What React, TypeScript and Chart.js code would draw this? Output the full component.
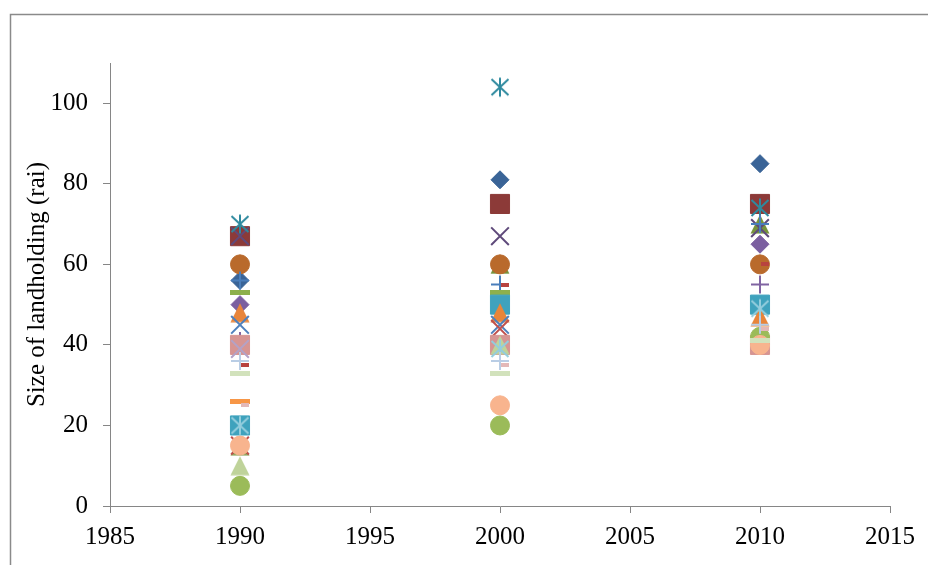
import React, { useEffect, useRef } from "react";
import { Chart, registerables } from "chart.js";

Chart.register(...registerables);

// ---- data ----
const years = [1990, 2000, 2010];
const xTickValues = [1985, 1990, 1995, 2000, 2005, 2010, 2015];
const yTickValues = [0, 20, 40, 60, 80, 100];
const yTitle = "Size of landholding (rai)";

const s01 = [56, 81, 85];
const s02 = [67, 75, 75];
const s03 = [15, 60, 70];
const s04 = [67, 67, 69];
const s05 = [70, 104, 74];
const s06 = [60, 60, 60];
const s07 = [56, 55, 70];
const s08 = [35, 55, 60];
const s09 = [53, 53, null];
const s10 = [26, null, null];
const s11 = [50, null, 65];
const s12 = [20, 50, 50];
const s13 = [48, 48, 47];
const s14 = [45, 45, null];
const s15 = [15, 44, null];
const s16 = [41, null, 55];
const s17 = [40, 40, 40];
const s18 = [10, 40, 42];
const s19 = [39, null, null];
const s20 = [20, 39, 49];
const s21 = [5, 20, 42];
const s22 = [15, 25, 40];
const s23 = [36, 36, 45];
const s24 = [25, 35, 44];
const s25 = [33, 33, 41];

const seriesValues = [s01, s02, s03, s04, s05, s06, s07, s08, s09, s10, s11, s12, s13, s14, s15, s16, s17, s18, s19, s20, s21, s22, s23, s24, s25];

// ---- styles (shape, colour) per series ----
const seriesStyles: [string, string][] = [
  ["diamond", "#3A6497"],
  ["square", "#8C3A38"],
  ["triangle", "#77933C"],
  ["x", "#5F4A7B"],
  ["star", "#2F8A9F"],
  ["circle", "#B96A2C"],
  ["plus", "#4A7EBB"],
  ["dash", "#B8433F"],
  ["longdash", "#8DB04C"],
  ["longdash", "#F79646"],
  ["diamond", "#7B5FA0"],
  ["square", "#3FA2BD"],
  ["triangle", "#E8853A"],
  ["x", "#4F81BD"],
  ["x", "#C0504D"],
  ["plus", "#8064A2"],
  ["square", "#D69593"],
  ["triangle", "#BFD39A"],
  ["x", "#B3A2C7"],
  ["star", "#93CDDD"],
  ["circle", "#9BBB59"],
  ["circle", "#F8B48E"],
  ["plus", "#B9CDE5"],
  ["dash", "#E3B8B7"],
  ["longdash", "#D2E2BC"],
];

const FONT = "'Liberation Serif', 'Times New Roman', serif";
const AXIS = "#868686";

function makeCanvas(w: number, h: number, draw: (c: CanvasRenderingContext2D) => void) {
  const cv = document.createElement("canvas");
  cv.width = w;
  cv.height = h;
  const c = cv.getContext("2d")!;
  draw(c);
  return cv;
}

function markerFor(shape: string, color: string): any {
  switch (shape) {
    case "diamond":
      return { pointStyle: "rectRot", radius: 9, borderWidth: 1 };
    case "square":
      return { pointStyle: "rect", radius: 13.5, borderWidth: 1 };
    case "circle":
      return { pointStyle: "circle", radius: 9.5, borderWidth: 1 };
    case "x":
      return { pointStyle: "crossRot", radius: 12.5, borderWidth: 2 };
    case "plus":
      return { pointStyle: "cross", radius: 9, borderWidth: 2 };
    case "triangle":
      return {
        pointStyle: makeCanvas(20, 20, (c) => {
          c.fillStyle = color;
          c.beginPath();
          c.moveTo(10, 0.5);
          c.lineTo(19.5, 19.5);
          c.lineTo(0.5, 19.5);
          c.closePath();
          c.fill();
        }),
        radius: 5,
        borderWidth: 0,
      };
    case "star":
      return {
        pointStyle: makeCanvas(22, 22, (c) => {
          c.strokeStyle = color;
          c.lineWidth = 2;
          c.beginPath();
          c.moveTo(11, 1.5);
          c.lineTo(11, 20.5);
          c.moveTo(2.5, 3);
          c.lineTo(19.5, 19);
          c.moveTo(19.5, 3);
          c.lineTo(2.5, 19);
          c.stroke();
        }),
        radius: 5,
        borderWidth: 0,
      };
    case "dash":
      return {
        pointStyle: makeCanvas(20, 4, (c) => {
          c.fillStyle = color;
          c.fillRect(11, 0, 8, 4);
        }),
        radius: 5,
        borderWidth: 0,
      };
    case "longdash":
    default:
      return {
        pointStyle: makeCanvas(20, 5, (c) => {
          c.fillStyle = color;
          c.fillRect(0, 0, 20, 5);
        }),
        radius: 5,
        borderWidth: 0,
      };
  }
}

const frame = {
  id: "frame",
  beforeDraw(chart: any) {
    const ctx = chart.ctx;
    ctx.save();
    ctx.fillStyle = "#ffffff";
    ctx.fillRect(0, 0, chart.width, chart.height);
    ctx.strokeStyle = "#8a8a8a";
    ctx.lineWidth = 1.5;
    ctx.beginPath();
    ctx.moveTo(10.5, chart.height);
    ctx.lineTo(10.5, 14.5);
    ctx.lineTo(chart.width, 14.5);
    ctx.stroke();
    ctx.restore();
  },
};

export default function App() {
  const ref = useRef<HTMLCanvasElement | null>(null);

  useEffect(() => {
    if (!ref.current) return;
    const datasets = seriesValues.map((vals, i) => {
      const [shape, color] = seriesStyles[i];
      const m = markerFor(shape, color);
      return {
        label: "Series " + (i + 1),
        data: years.map((yr, j) => ({ x: yr, y: vals[j] })),
        order: -i,
        showLine: false,
        pointStyle: m.pointStyle,
        pointRadius: m.radius,
        pointBorderWidth: m.borderWidth,
        pointBackgroundColor: color,
        pointBorderColor: color,
        backgroundColor: color,
        borderColor: color,
        clip: false as any,
      };
    });

    const chart = new Chart(ref.current, {
      type: "scatter",
      data: { datasets: datasets as any },
      plugins: [frame],
      options: {
        animation: false,
        responsive: false,
        devicePixelRatio: 1,
        layout: { padding: { left: 0, right: 38, top: 63, bottom: 0 } },
        plugins: { legend: { display: false }, tooltip: { enabled: false } },
        scales: {
          x: {
            type: "linear",
            min: 1985,
            max: 2015,
            afterBuildTicks: (s: any) => {
              s.ticks = xTickValues.map((v) => ({ value: v }));
            },
            afterFit: (s: any) => {
              s.height = 59;
            },
            grid: { drawOnChartArea: false, drawTicks: true, tickLength: 7, color: AXIS },
            border: { display: true, color: AXIS, width: 1 },
            ticks: {
              color: "#000",
              padding: 9,
              maxRotation: 0,
              font: { family: FONT, size: 25 },
              callback: (v: any) => String(v),
            },
          },
          y: {
            type: "linear",
            min: 0,
            max: 110,
            afterBuildTicks: (s: any) => {
              s.ticks = yTickValues.map((v) => ({ value: v }));
            },
            afterFit: (s: any) => {
              s.width = 110;
            },
            grid: { drawOnChartArea: false, drawTicks: true, tickLength: 7, color: AXIS },
            border: { display: true, color: AXIS, width: 1 },
            ticks: {
              color: "#000",
              padding: 15,
              font: { family: FONT, size: 25 },
              callback: (v: any) => String(v),
            },
            title: {
              display: true,
              text: yTitle,
              color: "#000",
              font: { family: FONT, size: 25 },
              padding: { top: 22, bottom: 0 },
            },
          },
        },
      },
    });
    return () => chart.destroy();
  }, []);

  return (
    <div style={{ position: "absolute", left: 0, top: 0, width: 928, height: 565, background: "#fff" }}>
      <canvas ref={ref} width={928} height={565} style={{ display: "block" }} />
    </div>
  );
}
